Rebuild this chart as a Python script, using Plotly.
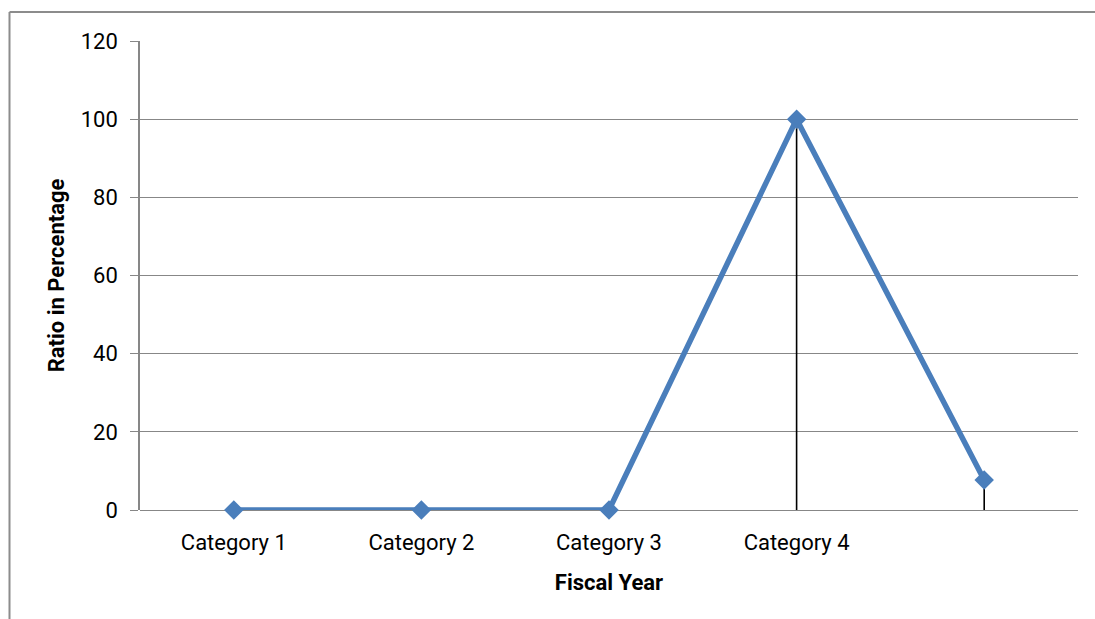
import plotly.graph_objects as go

# Chart data
categories = ["Category 1", "Category 2", "Category 3", "Category 4", ""]
ratio_pct = [0, 0, 0, 100, 7.7]
y_ticks = [0, 20, 40, 60, 80, 100, 120]

W, H = 1095, 619
L, R, T, B = 140, 17, 41, 109
plot_w = W - L - R
plot_h = H - T - B

FONT = "Roboto, Liberation Sans, Arial, sans-serif"
BLUE = "#4A7EBB"
GRID = "#878787"

x_pos = list(range(len(categories)))

fig = go.Figure()
fig.add_trace(go.Scatter(
    x=x_pos,
    y=ratio_pct,
    mode="lines+markers",
    line=dict(color=BLUE, width=5.5),
    marker=dict(symbol="diamond", size=15, color=BLUE),
    # drop lines from each point down to the category axis
    error_y=dict(type="data", symmetric=False, array=[0] * len(ratio_pct),
                 arrayminus=ratio_pct, color="black", thickness=1.6, width=0),
    cliponaxis=False,
    showlegend=False,
    hoverinfo="skip",
))

# outer chart frame (left and top edges visible)
px_to_paper_x = lambda px: (px - L) / plot_w
px_to_paper_y = lambda py: (H - B - py) / plot_h
frame = dict(color="#8C8C8C", width=2)
fig.add_shape(type="line", xref="paper", yref="paper",
              x0=px_to_paper_x(9.5), x1=px_to_paper_x(1100),
              y0=px_to_paper_y(12), y1=px_to_paper_y(12), line=frame)
fig.add_shape(type="line", xref="paper", yref="paper",
              x0=px_to_paper_x(9.5), x1=px_to_paper_x(9.5),
              y0=px_to_paper_y(12), y1=px_to_paper_y(630), line=frame)

fig.update_layout(
    width=W, height=H,
    margin=dict(l=L, r=R, t=T, b=B),
    paper_bgcolor="white",
    plot_bgcolor="white",
    font=dict(family=FONT, size=22, color="black"),
    xaxis=dict(
        range=[-0.5, len(categories) - 0.5],
        tickvals=x_pos,
        ticktext=categories,
        showgrid=False,
        zeroline=False,
        showline=False,
        ticks="",
        ticklabelstandoff=17,
        tickfont=dict(family=FONT, size=22, color="black"),
        title=dict(text="<b>Fiscal Year</b>", font=dict(family=FONT, size=22),
                   standoff=20),
    ),
    yaxis=dict(
        range=[0, 120],
        tickvals=y_ticks,
        showgrid=True,
        gridcolor=GRID,
        gridwidth=1.3,
        zeroline=True,
        zerolinecolor=GRID,
        zerolinewidth=1.3,
        showline=True,
        linecolor=GRID,
        linewidth=1.5,
        ticks="outside",
        ticklen=8,
        tickcolor=GRID,
        tickwidth=1.3,
        ticklabelstandoff=8,
        tickfont=dict(family=FONT, size=22, color="black"),
        title=dict(text="<b>Ratio in Percentage</b>", font=dict(family=FONT, size=22),
                   standoff=10),
    ),
)

fig.write_html("out.html")
